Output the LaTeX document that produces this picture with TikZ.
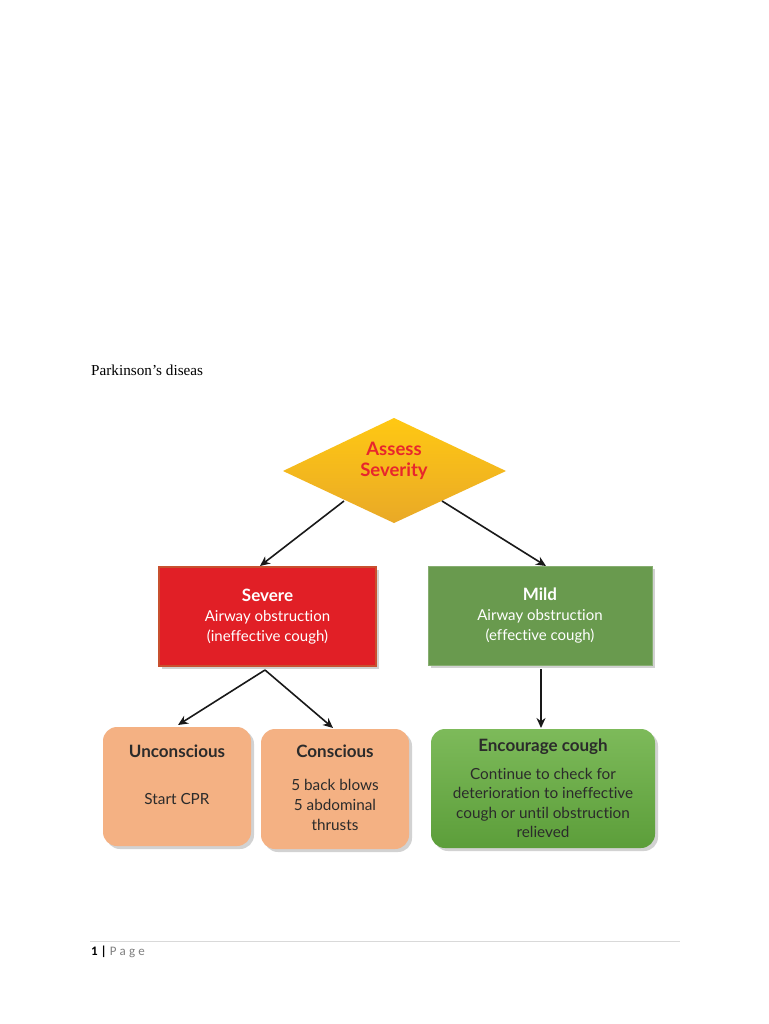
\documentclass[tikz,border=0pt]{standalone}
\usepackage{fontspec}
\setmainfont{Lato}[Ligatures={NoCommon}]
\newfontfamily\serifdoc{Liberation Serif}
\newfontfamily\footfont{Carlito}
\usetikzlibrary{shapes.geometric,shadows,arrows.meta}
\definecolor{gold1}{HTML}{FFC813}
\definecolor{gold2}{HTML}{E9A927}
\definecolor{sevred}{HTML}{E11F26}
\definecolor{sevborder}{HTML}{C8502F}
\definecolor{mildgreen}{HTML}{699A4E}
\definecolor{peach}{HTML}{F4B183}
\definecolor{enc1}{HTML}{7DBA5A}
\definecolor{enc2}{HTML}{5C9E3A}
\definecolor{txtred}{HTML}{E8262C}
\definecolor{txtdark}{HTML}{2B2B2B}
\tikzset{
  shad/.style={drop shadow={shadow xshift=3pt,shadow yshift=-3pt,opacity=0.35,fill=gray}},
  arr/.style={-{Stealth[length=10pt,width=9pt]},line width=1.6pt,draw=black!90},
  sqbox/.style={rectangle,minimum width=#1,minimum height=99pt,align=center,shad,font=\fontsize{15}{20}\selectfont,text=white,inner sep=0pt},
  rbox/.style={rectangle,rounded corners=14pt,align=center,shad,font=\fontsize{14}{20}\selectfont,text=txtdark,inner sep=0pt}
}
\begin{document}
\begin{tikzpicture}[x=1pt,y=-1pt]
\useasboundingbox[fill=white] (0,0) rectangle (768,1024);
\node[anchor=west,inner sep=0pt,font=\serifdoc\fontsize{15.2}{17}\selectfont] (title) at (91,370) {Parkinson’s diseas};
% diamond
\path[top color=gold1,bottom color=gold2] (394,418) -- (506,471) -- (394,523) -- (283,471) -- cycle;
\node[diamond,minimum width=223pt,minimum height=105pt,inner sep=0pt] (assess) at (394,471) {};
\node[align=center,text=txtred,font=\bfseries\fontsize{18.5}{21.5}\selectfont] (assesstxt) at (394,461) {Assess\\Severity};
% level 2
\node[sqbox=217pt,fill=sevred,draw=sevborder,line width=1.2pt] (severe) at (267.5,616.5) {{\bfseries\fontsize{17}{20}\selectfont Severe}\\Airway obstruction\\(ineffective cough)};
\node[sqbox=224pt,fill=mildgreen,draw=mildgreen!80!white,line width=0.6pt] (mild) at (540,615.5) {{\bfseries\fontsize{17}{20}\selectfont Mild}\\Airway obstruction\\(effective cough)};
% level 3
\node[rbox,fill=peach,minimum width=148pt,minimum height=119pt] (uncon) at (177,786.5) {};
\node[font=\bfseries\fontsize{17}{18}\selectfont,text=txtdark] (unconT) at (177,751) {Unconscious};
\node[font=\fontsize{15.3}{18}\selectfont,text=txtdark] (unconB) at (177,799) {Start CPR};
\node[rbox,fill=peach,minimum width=148pt,minimum height=120pt] (con) at (335,789) {};
\node[font=\bfseries\fontsize{17}{18}\selectfont,text=txtdark] (conT) at (335,751) {Conscious};
\node[align=center,font=\fontsize{15.3}{20}\selectfont,text=txtdark] (conB) at (335,805) {5 back blows\\5 abdominal\\thrusts};
\node[rbox,top color=enc1,bottom color=enc2,minimum width=224pt,minimum height=119pt] (enc) at (543,788.5) {};
\node[font=\bfseries\fontsize{17}{18}\selectfont,text=txtdark] (encT) at (543,747) {Encourage cough};
\node[align=center,font=\fontsize{15.3}{19.5}\selectfont,text=txtdark] (encB) at (543,803) {Continue to check for\\deterioration to ineffective\\cough or until obstruction\\relieved};
% arrows
\coordinate (a1s) at (344,501);
\coordinate (a2s) at (442,501);
\coordinate (sb) at (265,670);
\coordinate (mb) at (541,669);
\draw[arr] (a1s) -- (260,566);
\draw[arr] (a2s) -- (546,566);
\draw[arr] (sb) -- (178,725);
\draw[arr] (sb) -- (333,728);
\draw[arr] (mb) -- (541,728);
% footer
\draw[black!15,line width=0.8pt] (90,941) -- (680,941);
\node[anchor=west,font=\footfont\fontsize{13}{15}\selectfont,inner sep=0pt] (foot) at (91,952) {\textbf{1 |} \addfontfeature{LetterSpace=25}\textcolor{black!50}{Page}};
\end{tikzpicture}
\end{document}
